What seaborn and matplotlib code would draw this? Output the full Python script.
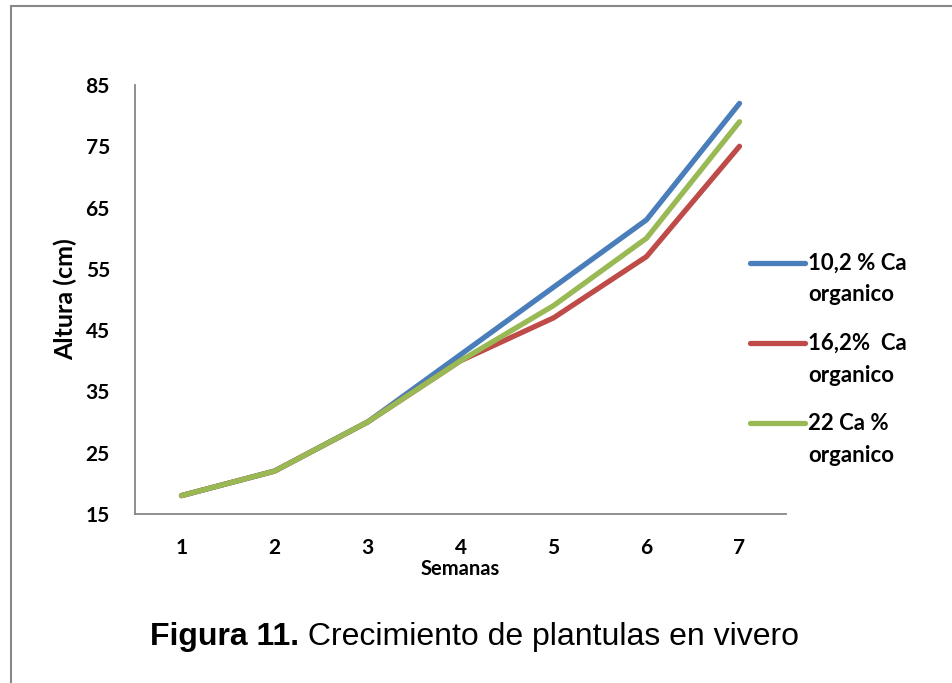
import matplotlib
matplotlib.use("Agg")
import matplotlib.pyplot as plt
from matplotlib.lines import Line2D
import seaborn as sns
import pandas as pd
import numpy as np

# ---- data ----
semanas = [1, 2, 3, 4, 5, 6, 7]
serie_10 = [18, 22, 30, 41, 52, 63, 82]
serie_16 = [18, 22, 30, 40, 47, 57, 75]
serie_22 = [18, 22, 30, 40, 49, 60, 79]
series_names = ["10,2 % Ca\norganico", "16,2%  Ca\norganico", "22 Ca %\norganico"]
colors = ["#4A7EBB", "#BE4B48", "#98B954"]
y_ticks = [15, 25, 35, 45, 55, 65, 75, 85]

sns.set_style("white")
plt.rcParams["font.family"] = ["Lato", "DejaVu Sans"]
plt.rcParams["text.color"] = "black"
plt.rcParams["axes.labelcolor"] = "black"

rows = []
for name, vals in zip(series_names, [serie_10, serie_16, serie_22]):
    for s, v in zip(semanas, vals):
        rows.append({"Semanas": s, "Altura": v, "Serie": name})
df = pd.DataFrame(rows)

W, H = 953, 683
fig = plt.figure(figsize=(W / 100, H / 100), dpi=100)
ax = fig.add_axes([135 / W, 1 - 514 / H, (786 - 135) / W, (514 - 85) / H])

sns.lineplot(data=df, x="Semanas", y="Altura", hue="Serie", palette=colors,
             linewidth=3.8, ax=ax, legend=False, solid_capstyle="round",
             hue_order=series_names)

ax.set_xlim(0.5, 7.5)
ax.set_ylim(15, 85)
ax.set_yticks(y_ticks)
ax.set_yticklabels([str(t) for t in y_ticks], fontsize=15, fontweight="bold", color="black")
ax.set_xticks(np.arange(0.5, 8, 1.0))
ax.set_xticklabels([])
ax.set_xticks(semanas, minor=True)
ax.set_xticklabels([str(s) for s in semanas], minor=True, fontsize=15, fontweight="bold",
                   color="black")
ax.tick_params(axis="x", which="major", length=7, width=1.3, color="#868686", direction="out")
ax.tick_params(axis="x", which="minor", length=0, pad=17)
ax.tick_params(axis="y", which="major", length=7, width=1.3, color="#868686", direction="out", pad=11)

for side in ["top", "right"]:
    ax.spines[side].set_visible(False)
for side in ["left", "bottom"]:
    ax.spines[side].set_color("#868686")
    ax.spines[side].set_linewidth(1.3)

ax.set_xlabel("Semanas", fontsize=14.5, fontweight="bold", labelpad=1, color="black")
ax.set_ylabel("Altura (cm)", fontsize=18, fontweight="bold", labelpad=6, color="black")

# ---- legend (manual, to match layout) ----
ax_w, ax_h = 786 - 135, 514 - 85
leg_y = [263, 343, 423]
for name, c, yp in zip(series_names, colors, leg_y):
    ya = (514 - yp) / ax_h
    ax.plot([(750 - 135) / ax_w, (805 - 135) / ax_w], [ya, ya], color=c, linewidth=3.8,
            solid_capstyle="round", transform=ax.transAxes, clip_on=False)
    first, second = name.split("\n")
    ax.text((808 - 135) / ax_w, ya, first, transform=ax.transAxes, fontsize=16,
            fontweight="bold", va="center", ha="left", color="black")
    ax.text((808 - 135) / ax_w, (514 - yp - 32) / ax_h, second, transform=ax.transAxes,
            fontsize=16, fontweight="bold", va="center", ha="left", color="black")

# ---- caption ----
t1 = fig.text(150 / W, 1 - 645 / H, "Figura 11.", fontsize=23, fontweight="bold",
              family=["Liberation Sans", "DejaVu Sans"], va="baseline", ha="left", color="black")
fig.canvas.draw()
ax.annotate(" Crecimiento de plantulas en vivero", xy=(1, 0), xycoords=t1,
            fontsize=23, family=["Liberation Sans", "DejaVu Sans"], va="bottom", ha="left",
            annotation_clip=False, color="black")

# ---- outer frame (left and top edges) ----
fig.add_artist(Line2D([11.5 / W, 11.5 / W], [0, 1 - 5.5 / H], transform=fig.transFigure,
                      color="#888888", linewidth=1.5))
fig.add_artist(Line2D([11.5 / W, 1], [1 - 5.5 / H, 1 - 5.5 / H], transform=fig.transFigure,
                      color="#888888", linewidth=1.5))

fig.savefig("out.png", dpi=100)
